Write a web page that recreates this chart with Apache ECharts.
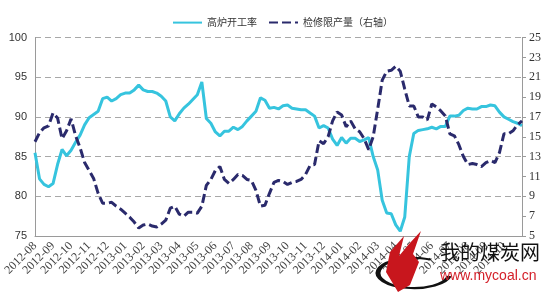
<!DOCTYPE html>
<html>
<head>
<meta charset="utf-8">
<script src="https://cdn.jsdelivr.net/npm/echarts@6/dist/echarts.min.js"></script>
<style>
html,body{margin:0;padding:0;background:#fff;}
#chart{width:550px;height:300px;}
</style>
</head>
<body>
<div id="chart"></div>
<script>
// Month tick labels (each month split into 4 weekly slots)
const months = ['2012-08','2012-09','2012-10','2012-11','2012-12','2013-01','2013-02','2013-03','2013-04','2013-05','2013-06','2013-07','2013-08','2013-09','2013-10','2013-11','2013-12','2014-01','2014-02','2014-03','2014-04','2014-05','2014-06','2014-07','2014-08','2014-09','2014-10','2014-11'];
const seriesNames = ['高炉开工率','检修限产量（右轴）'];

// 高炉开工率 (left axis, %)
const blastFurnaceRate = [
85.5,82.2,81.5,81.2,81.6,84.0,85.9,85.1,85.8,86.8,
87.7,89.0,89.9,90.3,90.7,92.3,92.5,92.0,92.3,92.8,
93.0,93.0,93.4,94.0,93.4,93.2,93.2,93.0,92.6,92.0,
90.0,89.5,90.4,91.1,91.6,92.2,92.8,94.4,89.8,89.2,
88.1,87.6,88.2,88.2,88.7,88.4,88.8,89.5,90.1,90.7,
92.4,92.1,91.1,91.2,91.0,91.4,91.5,91.1,91.0,90.9,
90.9,90.5,90.1,88.6,88.9,88.6,87.2,86.4,87.4,86.7,
87.3,87.3,86.9,87.1,87.4,85.0,83.3,79.5,77.9,77.8,
76.4,75.6,77.4,85.0,87.9,88.3,88.4,88.5,88.7,88.5,
88.8,88.8,90.1,90.1,90.2,90.8,91.1,91.0,91.0,91.3,
91.3,91.5,91.4,90.6,90.0,89.7,89.4,89.2,88.9
];

// 检修限产量 (right axis)
const maintenanceCut = [
14.5,15.4,15.9,16.1,17.4,16.9,14.8,15.6,16.8,15.1,
13.9,12.4,11.6,10.8,9.3,8.3,8.3,8.4,8.0,7.7,
7.3,6.9,6.4,5.8,6.1,6.2,6.0,5.9,6.2,6.6,
7.8,8.0,7.2,7.0,7.4,7.4,7.3,8.0,10.1,10.7,
11.6,12.0,10.7,10.3,10.7,11.2,11.1,10.7,10.6,9.6,
8.0,8.1,9.3,10.4,10.6,10.5,10.2,10.4,10.5,10.7,
11.2,12.1,12.2,14.6,14.3,15.0,16.6,17.5,17.2,16.0,
16.6,15.8,15.5,14.8,13.7,15.0,17.8,20.7,21.6,21.7,
22.1,21.6,19.8,18.1,18.1,17.0,17.0,16.7,18.3,18.0,
17.6,17.1,15.3,15.1,14.2,13.0,12.2,12.3,12.2,12.0,
12.4,12.6,12.4,13.4,15.3,15.3,15.6,16.2,16.6
];

const categories = [];
for (let k = 0; k < blastFurnaceRate.length; k++) {
  categories.push(months[Math.floor(k / 4)] + '|' + (k % 4 + 1));
}
const lastLabelIndex = 104;

const chart = echarts.init(document.getElementById('chart'), null, {renderer: 'canvas'});
chart.setOption({
  animation: false,
  backgroundColor: '#ffffff',
  legend: {
    left: 167,
    top: 12,
    itemWidth: 29,
    itemHeight: 14,
    itemGap: 11,
    itemStyle: {opacity: 0},
    textStyle: {fontSize: 10, color: '#333', fontFamily: 'Noto Sans CJK SC'},
    data: seriesNames
  },
  grid: {left: 35, right: 28, top: 37.5, bottom: 64, containLabel: false, outerBoundsMode: 'none'},
  xAxis: {
    type: 'category',
    data: categories,
    boundaryGap: false,
    axisLine: {show: true, lineStyle: {color: '#9a9a9a', width: 1}},
    axisTick: {show: false},
    axisLabel: {
      rotate: 45,
      margin: 8,
      fontSize: 12,
      color: '#444',
      fontFamily: 'Liberation Serif',
      interval: function (idx) { return idx % 4 === 0 && idx <= lastLabelIndex; },
      formatter: function (v) { return v.split('|')[0]; }
    },
    splitLine: {show: false}
  },
  yAxis: [
    {
      type: 'value', min: 75, max: 100, interval: 5, position: 'left',
      axisLine: {show: true, lineStyle: {color: '#9a9a9a', width: 1}},
      axisTick: {show: false},
      axisLabel: {fontSize: 11, color: '#333', fontFamily: 'Liberation Sans', margin: 8},
      splitLine: {show: true, lineStyle: {color: '#a8a8a8', type: [6, 4], width: 1}}
    },
    {
      type: 'value', min: 5, max: 25, interval: 2, position: 'right',
      axisLine: {show: true, lineStyle: {color: '#9a9a9a', width: 1}},
      axisTick: {show: true, inside: false, length: 4, lineStyle: {color: '#9a9a9a'}},
      axisLabel: {fontSize: 12, color: '#333', fontFamily: 'Liberation Serif', margin: 7},
      splitLine: {show: false}
    }
  ],
  series: [
    {
      name: seriesNames[0], type: 'line', yAxisIndex: 0,
      data: blastFurnaceRate, symbol: 'none', smooth: false,
      lineStyle: {color: '#36C4DE', width: 3},
      itemStyle: {color: '#36C4DE'},
      z: 2
    },
    {
      name: seriesNames[1], type: 'line', yAxisIndex: 1,
      data: maintenanceCut, symbol: 'none', smooth: false,
      lineStyle: {color: '#2A2A6C', width: 3, type: [9, 4]},
      itemStyle: {color: '#2A2A6C'},
      z: 3
    }
  ],
  graphic: [
    {type: 'arc', shape: {cx: 0, cy: 0, r: 36, startAngle: 0.2, endAngle: 5.2}, x: 414, y: 273, scaleY: 0.42,
     style: {stroke: '#111', lineWidth: 5, fill: null}, z: 10},
    {type: 'polygon', shape: {points: [[398,292],[386,272],[390,252],[404,236],[399,256],[409,244],[421,231],[413,254],[419,262],[410,285]]},
     style: {fill: '#c8161d'}, z: 11},
    {type: 'text', left: 440, top: 242, style: {text: '我的煤炭网', fontSize: 20, fill: '#111', fontFamily: 'Noto Sans CJK SC'}, z: 12},
    {type: 'text', left: 440, top: 269, style: {text: 'www.mycoal.cn', fontSize: 14, fill: '#d4202a', fontFamily: 'Liberation Sans'}, z: 12}
  ]
});
</script>
</body>
</html>
